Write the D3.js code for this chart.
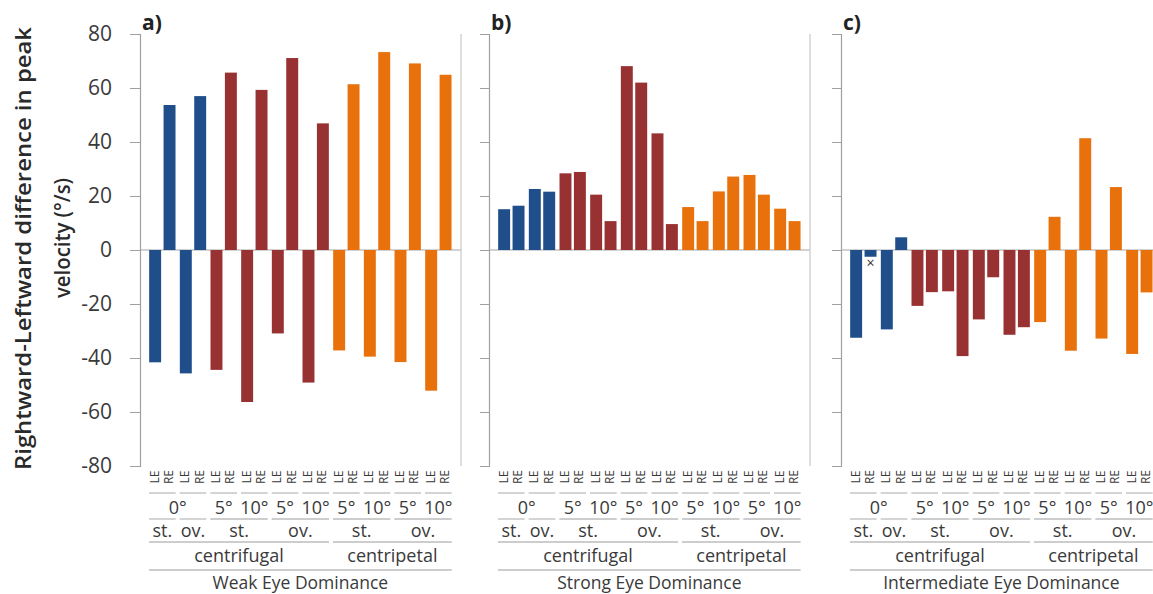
<!DOCTYPE html>
<html><head><meta charset="utf-8">
<script src="https://cdn.jsdelivr.net/npm/d3@7"></script>
<style>body{margin:0;background:#fff;} svg{display:block;}</style>
</head><body><svg id="chart" width="1153" height="594"></svg>
<script>
// ---------- data ----------
const groups = ["0° st.","0° ov.","5° st.","10° st.","5° ov.","10° ov.","5° st.","10° st.","5° ov.","10° ov."];
const eyes = ["LE","RE"];
const groupType = ["zero","zero","cf","cf","cf","cf","cp","cp","cp","cp"];
const weakLE   = [-41.6,-45.7,-44.4,-56.3,-30.9,-49.1,-37.2,-39.5,-41.5,-52.1];
const weakRE   = [53.7,57.0,65.7,59.3,71.1,46.9,61.4,73.3,69.1,64.9];
const strongLE = [15.1,22.6,28.4,20.5,68.1,43.2,15.9,21.7,27.8,15.3];
const strongRE = [16.4,21.6,28.9,10.7,62.0,9.6,10.7,27.2,20.5,10.7];
const interLE  = [-32.5,-29.4,-20.7,-15.3,-25.7,-31.4,-26.7,-37.3,-32.8,-38.5];
const interRE  = [-2.5,4.7,-15.6,-39.3,-10.1,-28.6,12.3,41.4,23.3,-15.7];
const interMarker = [{group:0, eye:"RE", value:-5.2}];
const panelTitles = ["a)","b)","c)"];
const dominance = ["Weak Eye Dominance","Strong Eye Dominance","Intermediate Eye Dominance"];
const yTicks = [-80,-60,-40,-20,0,20,40,60,80];
const angleRow = [["0°",0,2],["5°",2,3],["10°",3,4],["5°",4,5],["10°",5,6],["5°",6,7],["10°",7,8],["5°",8,9],["10°",9,10]];
const stovRow = [["st.",0,1],["ov.",1,2],["st.",2,4],["ov.",4,6],["st.",6,8],["ov.",8,10]];
const dirRow = [["centrifugal",0,6],["centripetal",6,10]];
const yTitle = ["Rightward-Leftward difference in peak","velocity (°/s)"];

const colors = {zero:"#1f4e8a", cf:"#983232", cp:"#e8710c"};
const panels = [
  {LE:weakLE, RE:weakRE, x0:140, markers:[]},
  {LE:strongLE, RE:strongRE, x0:489, markers:[]},
  {LE:interLE, RE:interRE, x0:841, markers:interMarker}
];

// ---------- drawing ----------
const svg = d3.select("#chart");
const y = d3.scaleLinear().domain([-80,80]).range([466,34]);
const font = "Open Sans, Lato, sans-serif";
const textCol = "#3a3a3a";
const lineCol = "#bdbdbd";

panels.forEach((p,pi) => {
  const g = svg.append("g");
  const groupW = 30.67;
  const x = d3.scaleBand().domain(d3.range(groups.length)).range([p.x0+7, p.x0+7+groupW*groups.length]).padding(0);
  const xi = d3.scaleBand().domain(eyes).range([0, groupW]).paddingInner(0.17).paddingOuter(0.15);

  // zero line
  g.append("line").attr("x1",p.x0).attr("x2",p.x0+321).attr("y1",y(0)).attr("y2",y(0))
    .attr("stroke","#a6a6a6").attr("stroke-width",1.2);
  // right border
  g.append("line").attr("x1",p.x0+321).attr("x2",p.x0+321).attr("y1",y(80)).attr("y2",y(-80))
    .attr("stroke","#c8c8c8").attr("stroke-width",1.2);

  // y axis
  const ax = d3.axisLeft(y).tickValues(yTicks).tickSize(pi===0?10:9)
    .tickFormat(pi===0 ? (d => d < 0 ? "-" + Math.abs(d) : String(d)) : (() => ""));
  const axG = g.append("g").attr("transform",`translate(${p.x0},0)`).call(ax);
  axG.select(".domain").attr("stroke","#a0a0a0").attr("stroke-width",1.2);
  axG.selectAll(".tick line").attr("stroke","#a0a0a0").attr("stroke-width",1);
  axG.selectAll(".tick text").attr("font-family",font).attr("font-size",21).attr("fill",textCol).attr("x",-28);

  // bars
  const data = [];
  groups.forEach((gname,i) => eyes.forEach(e => data.push({i, e, v:p[e][i]})));
  g.selectAll("rect.bar").data(data).enter().append("rect").attr("class","bar")
    .attr("x", d => x(d.i)+xi(d.e))
    .attr("width", xi.bandwidth())
    .attr("y", d => y(Math.max(0,d.v)))
    .attr("height", d => Math.abs(y(d.v)-y(0)))
    .attr("fill", d => colors[groupType[d.i]]);

  // markers
  g.selectAll("text.mk").data(p.markers).enter().append("text").attr("class","mk")
    .attr("x", d => x(d.group)+xi(d.eye)+xi.bandwidth()/2)
    .attr("y", d => y(d.value)+4)
    .attr("text-anchor","middle").attr("font-family",font).attr("font-size",14).attr("fill","#333").text("×");

  // title
  g.append("text").attr("x",p.x0+2).attr("y",30).attr("font-family",font).attr("font-weight",700)
    .attr("font-size",21).attr("fill","#222").text(panelTitles[pi]);

  // category labels: LE/RE
  groups.forEach((gname,i) => eyes.forEach(e => {
    const cx = x(i)+xi(e)+xi.bandwidth()/2;
    g.append("text").attr("transform",`translate(${cx+3.5},477) rotate(-90)`)
      .attr("text-anchor","middle").attr("font-family",font).attr("font-size",12).attr("fill",textCol).text(e);
  }));
  const seg = (a,b,yy) => g.append("line").attr("x1",x(a)+2).attr("x2",x(b-1)+x.bandwidth()-2)
      .attr("y1",yy).attr("y2",yy).attr("stroke",lineCol).attr("stroke-width",1.3);
  const lbl = (t,a,b,yy,fs) => g.append("text").attr("x",(x(a)+x(b-1)+x.bandwidth())/2).attr("y",yy)
      .attr("text-anchor","middle").attr("font-family",font).attr("font-size",fs).attr("fill",textCol).text(t);
  groups.forEach((gname,i) => seg(i,i+1,493));
  angleRow.forEach(([t,a,b]) => lbl(t,a,b,514,18));
  stovRow.forEach(([t,a,b]) => { seg(a,b,519); lbl(t,a,b,537,18); });
  dirRow.forEach(([t,a,b]) => { seg(a,b,542); lbl(t,a,b,562,18); });
  seg(0,groups.length,570); lbl(dominance[pi],0,groups.length,589,17.5);
});

// y title
const yt = svg.append("g").attr("transform","translate(0,250) rotate(-90)");
yt.append("text").attr("x",1.5).attr("y",31).attr("text-anchor","middle")
  .attr("font-family",font).attr("font-weight",600).attr("font-size",22).attr("fill","#2a2a2a")
  .attr("textLength",443).attr("lengthAdjust","spacingAndGlyphs").text(yTitle[0]);
yt.append("text").attr("x",12).attr("y",70).attr("text-anchor","middle")
  .attr("font-family",font).attr("font-weight",600).attr("font-size",22).attr("fill","#2a2a2a")
  .attr("textLength",120).attr("lengthAdjust","spacingAndGlyphs").text(yTitle[1]);
</script></body></html>
